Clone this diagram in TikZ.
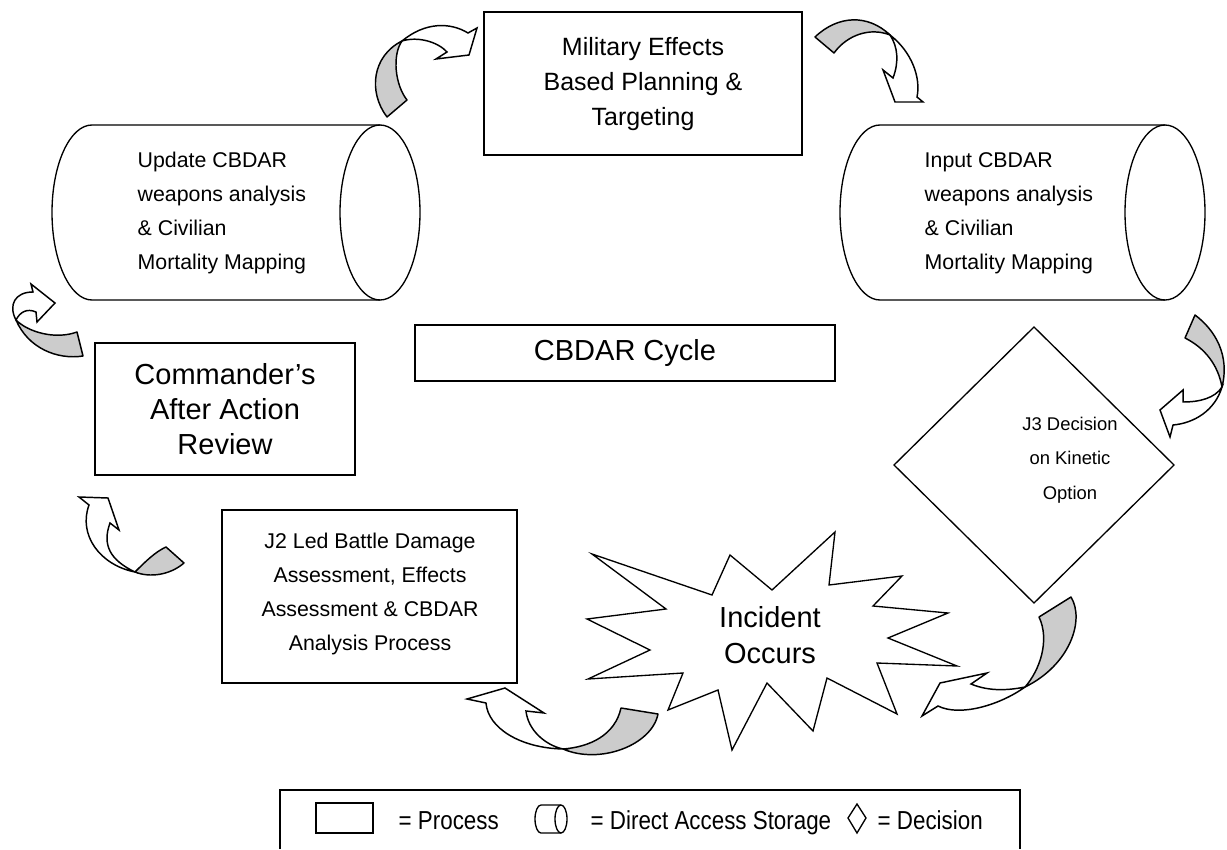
\documentclass[tikz,border=0pt]{standalone}
\usepackage{fontspec}
\setmainfont{Liberation Sans}
\newfontfamily\keyfont[FakeStretch=0.86]{Liberation Sans}
\definecolor{foldgrey}{RGB}{204,204,204}

\begin{document}
\begin{tikzpicture}[x=1pt,y=1pt,yscale=-0.75,xscale=0.75,
    outline/.style={line width=1pt},
    foldtail/.style={fill=foldgrey,line width=1.1pt,line join=round},
    foldhead/.style={fill=white,line width=1.1pt,line join=miter},
    titletxt/.style={font=\fontsize{18.75}{26.25}\selectfont,align=center},
    bigtxt/.style={font=\fontsize{21.75}{26.5}\selectfont,align=center},
    smalltxt/.style={font=\fontsize{16}{25.5}\selectfont},
    decitxt/.style={font=\fontsize{13.8}{25.8}\selectfont,align=center},
    keytxt/.style={font=\keyfont\fontsize{19.5}{22}\selectfont,anchor=base west}]
    \useasboundingbox (0,0) rectangle (1227,849);

    %Shape: Rectangle
    \draw[outline] (484,12) rectangle (802,155);
    %Shape: Rectangle
    \draw[outline] (415,325) rectangle (835,381);
    %Shape: Rectangle
    \draw[outline] (95,343) rectangle (355,475);
    %Shape: Rectangle
    \draw[outline] (222,510) rectangle (517,683);

    %Shape: Can
    \draw[outline] (92,125) -- (380,125) (92,300) -- (380,300)
        (92,125) .. controls (69.9,125) and (52,164.2) .. (52,212.5) .. controls (52,260.8) and (69.9,300) .. (92,300);
    \draw[outline] (380,212.5) ellipse [x radius=40,y radius=87.5];
    %Shape: Can
    \draw[outline] (880,125) -- (1165,125) (880,300) -- (1165,300)
        (880,125) .. controls (857.9,125) and (840,164.2) .. (840,212.5) .. controls (840,260.8) and (857.9,300) .. (880,300);
    \draw[outline] (1165,212.5) ellipse [x radius=40,y radius=87.5];

    %Shape: Diamond
    \draw[outline] (1034,327) -- (1174,465) -- (1034,603) -- (894,465) -- cycle;

    %Shape: Explosion
    \draw[outline,line join=miter] (592,554) -- (712,595) -- (730,555) -- (772,590) -- (835,532) -- (829,585)
        -- (902,576) -- (873,606) -- (948,613) -- (888,638) -- (957,666) -- (877,663)
        -- (897,714) -- (827,678) -- (813,731) -- (767,683) -- (732,750) -- (718,690)
        -- (668,710) -- (683,673) -- (588,679) -- (650,650) -- (587,619) -- (666,609) -- cycle;

    %Curved Arrow: storage to planning
    \draw[foldtail] (387,117) .. controls (368,92) and (372,56) .. (402,41) .. controls (392,55) and (395,85) .. (407,100) -- cycle;
    \draw[foldhead] (402,41) .. controls (425,22) and (450,22) .. (468,33) -- (477,28) -- (469,55) -- (436,59) -- (447,52) .. controls (438,42) and (418,36) .. (402,41) -- cycle;
    %Curved Arrow: planning to storage
    \draw[foldtail] (815,37) .. controls (838,15) and (868,14) .. (890,35) .. controls (870,27) and (847,35) .. (834,53) -- cycle;
    \draw[foldhead] (890,35) .. controls (912,52) and (921,78) .. (917,97) -- (923,102) -- (895,102) -- (883,70) -- (893,78) .. controls (899,62) and (898,47) .. (890,35) -- cycle;
    %Curved Arrow: storage to decision
    \draw[foldtail] (1195,315) .. controls (1215,330) and (1230,355) .. (1222,387) .. controls (1218,365) and (1205,348) .. (1185,338) -- cycle;
    \draw[foldhead] (1222,387) .. controls (1215,410) and (1195,423) .. (1173,425) -- (1170,437) -- (1160,410) -- (1183,390) -- (1183,402) .. controls (1200,402) and (1215,398) .. (1222,387) -- cycle;
    %Curved Arrow: decision to incident
    \draw[foldtail] (1071,597) .. controls (1085,620) and (1070,665) .. (1025,687) .. controls (1040,670) and (1050,640) .. (1039,617) -- cycle;
    \draw[foldhead] (1025,687) .. controls (1000,705) and (960,717) .. (938,706) -- (922,716) -- (940,683) -- (987,673) -- (971,684) .. controls (990,692) and (1010,690) .. (1025,687) -- cycle;
    %Curved Arrow: incident to assessment
    \draw[foldtail] (658,714) .. controls (652,745) and (600,765) .. (563,749) .. controls (590,747) and (615,735) .. (621,708) -- cycle;
    \draw[foldhead] (563,749) .. controls (520,748) and (488,728) .. (486,703) -- (467,699) -- (505,688) -- (544,713) -- (526,711) .. controls (528,730) and (545,745) .. (563,749) -- cycle;
    %Curved Arrow: assessment to review
    \draw[foldtail] (135,572) .. controls (145,562) and (155,552) .. (166,547) -- (184,563) .. controls (170,575) and (150,578) .. (135,572) -- cycle;
    \draw[foldhead] (135,572) .. controls (100,565) and (78,535) .. (89,505) -- (79,497) -- (108,498) -- (119,530) -- (110,523) .. controls (102,545) and (110,560) .. (135,572) -- cycle;
    %Curved Arrow: review to storage
    \draw[foldtail] (83,356) .. controls (57,360) and (28,348) .. (16,320) .. controls (28,332) and (55,340) .. (77,332) -- cycle;
    \draw[foldhead] (16,320) .. controls (8,305) and (15,292) .. (33,292) -- (31,284) -- (55,303) -- (37,322) -- (36,312) .. controls (27,308) and (20,312) .. (16,320) -- cycle;

    % Text Node
    \draw (643,84) node[titletxt] (plan) {Military Effects\\Based Planning \&\\Targeting};
    % Text Node
    \draw (133,213) node[smalltxt,anchor=west,align=left] (update) {Update CBDAR\\weapons analysis\\\& Civilian\\Mortality Mapping};
    % Text Node
    \draw (920,213) node[smalltxt,anchor=west,align=left] (input) {Input CBDAR\\weapons analysis\\\& Civilian\\Mortality Mapping};
    % Text Node
    \draw (625,353) node[bigtxt] (cycle) {CBDAR Cycle};
    % Text Node
    \draw (225,409) node[bigtxt] (review) {Commander’s\\After Action\\Review};
    % Text Node
    \draw (370,594) node[smalltxt,align=center] (bda) {J2 Led Battle Damage\\Assessment, Effects\\Assessment \& CBDAR\\Analysis Process};
    % Text Node
    \draw (1070,460) node[decitxt] (kinetic) {J3 Decision\\on Kinetic\\Option};
    % Text Node
    \draw (770,635) node[bigtxt] (incident) {Incident\\Occurs};

    %Legend
    \draw[outline] (280,849) -- (280,790) -- (1020,790) -- (1020,849);
    \draw[outline] (316,803) rectangle (373,833);
    \draw[outline] (541,805) -- (561,805) (541,833) -- (561,833)
        (541,805) .. controls (537.7,805) and (535,811.3) .. (535,819) .. controls (535,826.7) and (537.7,833) .. (541,833);
    \draw[outline] (561,819) ellipse [x radius=6,y radius=14];
    \draw[outline] (857,804) -- (866,818) -- (857,833) -- (848,818) -- cycle;
    \draw (394,829) node[keytxt] (keyproc) {= Process};
    \draw (586,829) node[keytxt] (keystore) {= Direct Access Storage};
    \draw (873,829) node[keytxt] (keydeci) {= Decision};
\end{tikzpicture}
\end{document}
